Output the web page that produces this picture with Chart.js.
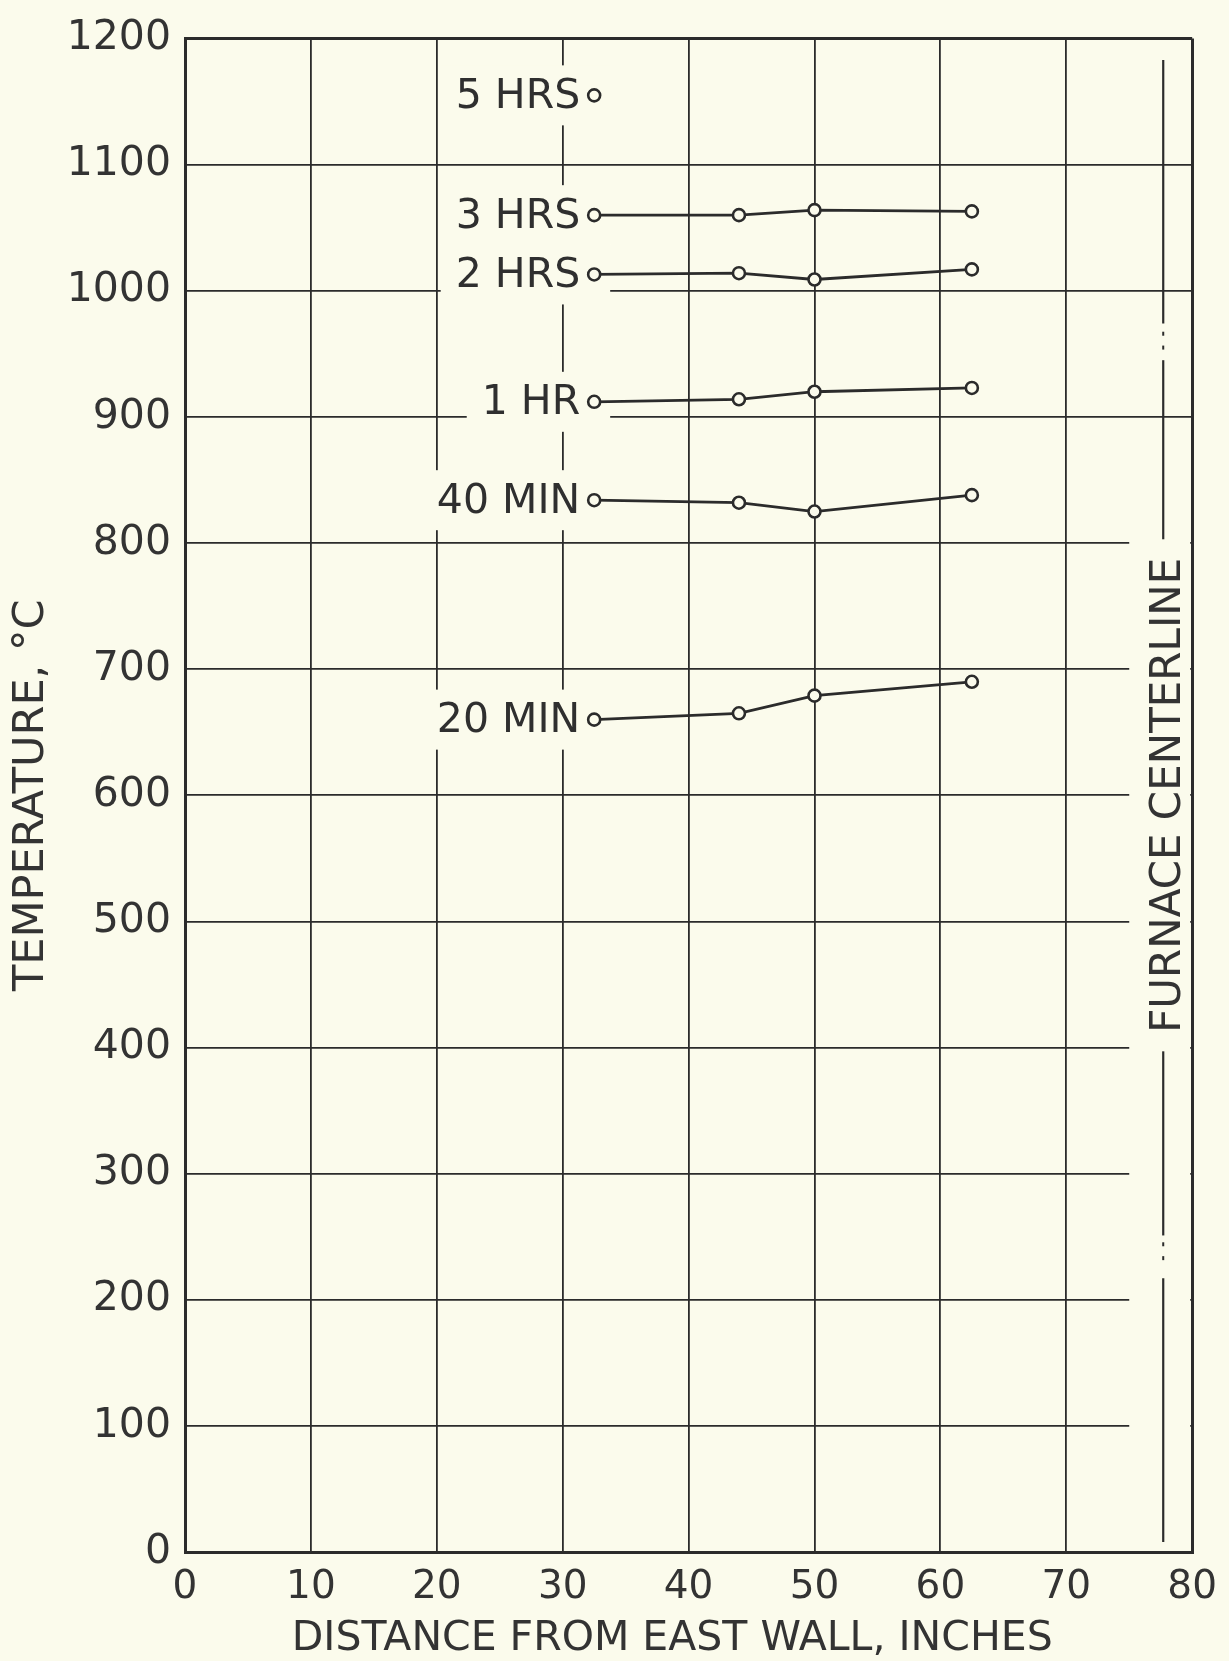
<!DOCTYPE html>
<html>
<head>
<meta charset="utf-8">
<script src="https://cdn.jsdelivr.net/npm/chart.js@4/dist/chart.umd.min.js"></script>
<style>
  html, body { margin: 0; padding: 0; background: #fbfbec; }
  #wrap { width: 1229px; height: 1661px; position: relative; }
</style>
</head>
<body>
<div id="wrap"><canvas id="chart"></canvas></div>
<script>
const ink = '#2b2b2b';
const paper = '#fbfbec';
const fontFamily = '"DejaVu Sans", "Liberation Sans", sans-serif';

// distances (inches) where readings were taken
const distances = [32.5, 44, 50, 62.5];

// temperatures, deg C
const seriesNames = ['5 HRS', '3 HRS', '2 HRS', '1 HR', '40 MIN', '20 MIN'];
const temp5hrs  = [1155];
const temp3hrs  = [1060, 1060, 1064, 1063];
const temp2hrs  = [1013, 1014, 1009, 1017];
const temp1hr   = [912, 914, 920, 923];
const temp40min = [834, 832, 825, 838];
const temp20min = [660, 665, 679, 690];
const seriesValues = [temp5hrs, temp3hrs, temp2hrs, temp1hr, temp40min, temp20min];

const xTicks = [0, 10, 20, 30, 40, 50, 60, 70, 80];
const yTicks = [0, 100, 200, 300, 400, 500, 600, 700, 800, 900, 1000, 1100, 1200];

const xTitle = 'DISTANCE FROM EAST WALL, INCHES';
const centerlineX = 77.7;
const centerlineLabel = 'FURNACE CENTERLINE';

const datasets = seriesValues.map((vals, i) => ({
    label: seriesNames[i],
    data: vals.map((v, j) => ({ x: distances[j], y: v })),
    borderColor: ink,
    borderWidth: 2.8,
    pointRadius: 6,
    pointBorderWidth: 2.6,
    pointBackgroundColor: paper,
    pointBorderColor: ink,
    fill: false,
    tension: 0
}));

// white-out boxes behind the series labels, then the labels themselves
const seriesLabels = {
    id: 'seriesLabels',
    beforeDatasetsDraw(chart) {
        const { ctx, scales: { x, y } } = chart;
        ctx.save();
        // short horizontal grid lines stop before the centerline
        ctx.fillStyle = paper;
        ctx.fillRect(x.getPixelForValue(75), y.getPixelForValue(800) - 3,
            x.getPixelForValue(80) - 2 - x.getPixelForValue(75),
            y.getPixelForValue(100) - y.getPixelForValue(800) + 6);

        ctx.font = `41px ${fontFamily}`;
        chart.data.datasets.forEach((ds, i) => {
            const p = chart.getDatasetMeta(i).data[0];
            const w = ctx.measureText(ds.label).width;
            const left = p.x - 15 - w - 14;
            ctx.fillRect(left, p.y - 30, p.x + 16 - left, 60);
        });

        // furnace centerline with its broken segments
        const cx = x.getPixelForValue(centerlineX);
        ctx.strokeStyle = ink;
        ctx.lineWidth = 2.2;
        const segs = [[1183, 974], [945, 803], [397, 251], [217, 8]];
        segs.forEach(([a, b]) => {
            ctx.beginPath();
            ctx.moveTo(cx, y.getPixelForValue(a));
            ctx.lineTo(cx, y.getPixelForValue(b));
            ctx.stroke();
        });
        ctx.fillStyle = ink;
        [966, 955, 244, 233].forEach(v => {
            ctx.fillRect(cx - 1, y.getPixelForValue(v) - 2, 2, 4);
        });
        ctx.translate(cx + 4, y.getPixelForValue(600));
        ctx.rotate(-Math.PI / 2);
        ctx.font = `42px ${fontFamily}`;
        ctx.fillStyle = '#333';
        ctx.textAlign = 'center';
        ctx.textBaseline = 'middle';
        ctx.fillText(centerlineLabel, 0, 2);
        ctx.restore();
    },
    afterDatasetsDraw(chart) {
        const { ctx } = chart;
        ctx.save();
        ctx.font = `41px ${fontFamily}`;
        ctx.fillStyle = '#2f2f2f';
        ctx.textAlign = 'right';
        ctx.textBaseline = 'middle';
        chart.data.datasets.forEach((ds, i) => {
            const p = chart.getDatasetMeta(i).data[0];
            ctx.fillText(ds.label, p.x - 14, p.y + 2);
        });
        ctx.restore();
    },
    afterDraw(chart) {
        // x title sits a little left of the plot centre in the original
        const { ctx, scales: { x } } = chart;
        ctx.save();
        ctx.font = `41px ${fontFamily}`;
        ctx.fillStyle = '#333';
        ctx.textAlign = 'center';
        ctx.textBaseline = 'middle';
        ctx.fillText(xTitle, x.getPixelForValue(38.7), x.bottom - 22);
        ctx.restore();
    }
};

const edgeWidth = (val, lo, hi) => (val === lo || val === hi) ? 3 : 1.8;

new Chart(document.getElementById('chart'), {
    type: 'line',
    data: { datasets },
    options: {
        responsive: true,
        maintainAspectRatio: false,
        animation: false,
        layout: { padding: { top: 32, right: 32, left: 0, bottom: 0 } },
        plugins: { legend: { display: false }, tooltip: { enabled: false } },
        scales: {
            x: {
                type: 'linear',
                min: 0, max: 80,
                afterBuildTicks: s => { s.ticks = xTicks.map(v => ({ value: v })); },
                afterFit: s => { s.height = 109; },
                ticks: { color: '#333', font: { family: fontFamily, size: 39 }, padding: 12, maxRotation: 0, callback: v => String(v) },
                grid: { color: ink, lineWidth: c => edgeWidth(c.tick && c.tick.value, 0, 80), drawTicks: false },
                border: { display: true, color: ink, width: 3 },
                title: { display: false }
            },
            y: {
                type: 'linear',
                min: 0, max: 1200,
                afterBuildTicks: s => { s.ticks = yTicks.map(v => ({ value: v })); },
                afterFit: s => { s.width = 185; },
                ticks: { color: '#333', font: { family: fontFamily, size: 41 }, padding: 14, callback: v => String(v) },
                grid: { color: ink, lineWidth: c => edgeWidth(c.tick && c.tick.value, 0, 1200), drawTicks: false },
                border: { display: true, color: ink, width: 3 },
                title: {
                    display: true, text: 'TEMPERATURE, °C', color: '#333',
                    font: { family: fontFamily, size: 43 }, padding: { top: 6, bottom: 0 }
                }
            }
        }
    },
    plugins: [seriesLabels]
});
</script>
</body>
</html>
